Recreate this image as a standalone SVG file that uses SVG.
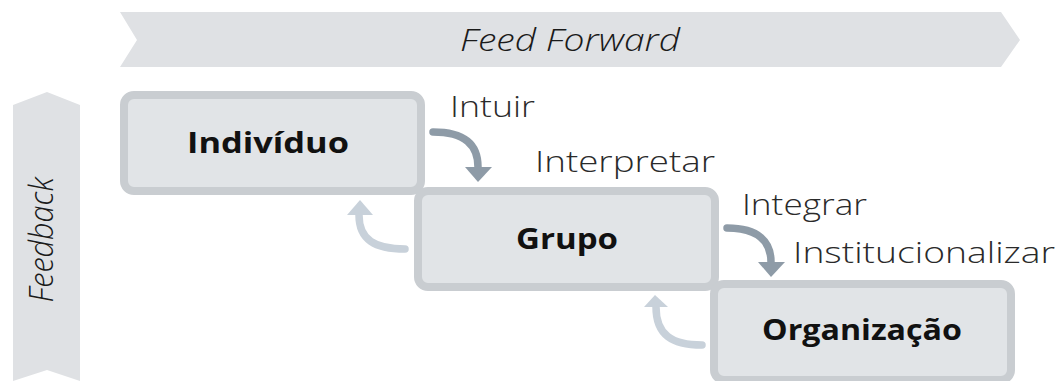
<svg xmlns="http://www.w3.org/2000/svg" width="1062" height="381" viewBox="0 0 1062 381">
<defs>
<style>
.banner{fill:#dfe1e4}
.bt{font-family:"Open Sans","Liberation Sans",sans-serif;font-style:italic;font-weight:300;fill:#1a1a1a}
.box{fill:#e1e4e7;stroke:#c9cdd1;stroke-width:8}
.nt{font-family:"Open Sans","Liberation Sans",sans-serif;font-weight:700;font-size:28px;fill:#111;text-anchor:middle}
.lab{font-family:"Open Sans","Liberation Sans",sans-serif;font-weight:300;font-size:30px;fill:#2a2a2a}
.fwd{fill:none;stroke:#8e9ba7;stroke-width:7.5;stroke-linecap:round}
.fwdh{fill:#8e9ba7}
.back{fill:none;stroke:#c8d1da;stroke-width:7.5;stroke-linecap:round}
.backh{fill:#c8d1da}
</style>
</defs>
<rect width="1062" height="381" fill="#ffffff"/>
<g id="feed-forward">
<polygon class="banner" points="120,12 1001,12 1020,40 1001,67 120,67 137,40"/>
<text class="bt" x="570" y="51" font-size="32" text-anchor="middle" textLength="220" lengthAdjust="spacingAndGlyphs">Feed Forward</text>
</g>
<g id="feedback">
<polygon class="banner" points="13,105 47,92 80,105 80,381 47,370 13,381"/>
<text class="bt" font-size="33" transform="translate(53,240) rotate(-90)" text-anchor="middle" textLength="125" lengthAdjust="spacingAndGlyphs">Feedback</text>
</g>
<g id="individuo">
<rect class="box" x="124" y="95" width="297" height="96" rx="10"/>
<text class="nt" x="268" y="153" textLength="162" lengthAdjust="spacingAndGlyphs">Indivíduo</text>
</g>
<g id="grupo">
<rect class="box" x="418" y="191" width="297" height="96" rx="10"/>
<text class="nt" x="567" y="249" textLength="102" lengthAdjust="spacingAndGlyphs">Grupo</text>
</g>
<g id="organizacao">
<rect class="box" x="714" y="284" width="297" height="96" rx="10"/>
<text class="nt" x="862" y="340" textLength="200" lengthAdjust="spacingAndGlyphs">Organização</text>
</g>
<g id="connectors">
<path class="fwd" d="M433,132 C465,132 478,145 478,167"/>
<polygon class="fwdh" points="465,167 492,167 478,182"/>
<path class="fwd" d="M727,228 C759,228 771,242 771,262"/>
<polygon class="fwdh" points="758,262 785,262 771,277"/>
<path class="back" d="M405,249 C375,249 359,240 359,215"/>
<polygon class="backh" points="347,215 373,215 360,200"/>
<path class="back" d="M702,345 C672,345 656,335 656,307"/>
<polygon class="backh" points="644,307 668,307 655,295"/>
</g>
<g id="labels">
<text class="lab" x="450" y="117" textLength="85" lengthAdjust="spacingAndGlyphs">Intuir</text>
<text class="lab" x="535" y="172" textLength="180" lengthAdjust="spacingAndGlyphs">Interpretar</text>
<text class="lab" x="742" y="215" textLength="125" lengthAdjust="spacingAndGlyphs">Integrar</text>
<text class="lab" x="793" y="263" textLength="262" lengthAdjust="spacingAndGlyphs">Institucionalizar</text>
</g>
</svg>
